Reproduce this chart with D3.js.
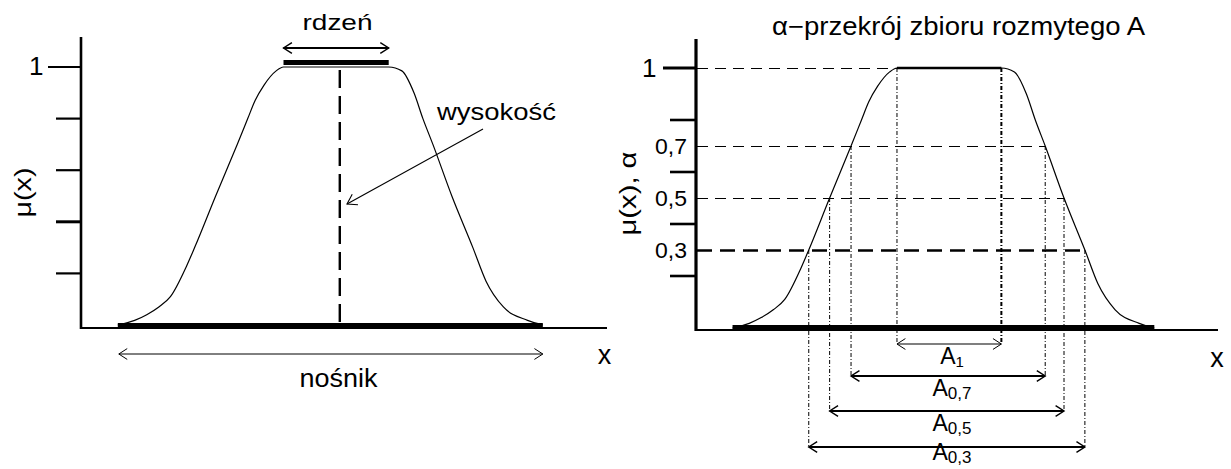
<!DOCTYPE html>
<html>
<head>
<meta charset="utf-8">
<script src="https://cdn.jsdelivr.net/npm/d3@7"></script>
<style>
  html, body { margin: 0; padding: 0; background: #fff; }
  svg { display: block; }
  text { font-family: "Liberation Sans", Arial, sans-serif; fill: #000; }
</style>
</head>
<body>
<svg id="chart" width="1231" height="469"></svg>
<script>
// ---------- data ----------
// membership function mu(x), x in abstract units 0..10
const curveX  = [0.70, 1.02, 1.25, 1.48, 1.70, 2.01, 2.16, 2.56, 2.97, 3.17, 3.31, 3.48, 3.71, 3.85,
                 5.85, 6.10, 6.33, 6.50, 6.69, 7.05, 7.45, 7.70, 8.03, 8.49, 8.78];
const curveMu = [0.00, 0.018, 0.04, 0.07, 0.11, 0.23, 0.30, 0.50, 0.70, 0.80, 0.87, 0.93, 0.985, 1.00,
                 1.00, 0.985, 0.90, 0.80, 0.70, 0.50, 0.30, 0.17, 0.07, 0.018, 0.00];
const supportRange = [0.70, 8.78];   // nośnik
const coreRange    = [3.85, 5.85];   // rdzeń
const heightX      = 4.92;           // wysokość marker
const leftTicks    = [0.2, 0.4, 0.6, 0.8, 1];
const leftTickLabels = ["", "", "", "", "1"];
const rightTicks   = [0.2, 0.4, 0.6, 0.8, 1];
const alphaLevels  = [1, 0.7, 0.5, 0.3];
const alphaLabels  = ["1", "0,7", "0,5", "0,3"];
const alphaCutLeft  = [3.85, 2.97, 2.56, 2.16];
const alphaCutRight = [5.85, 6.69, 7.05, 7.45];
const cutNames = ["A", "A", "A", "A"];
const cutSubs  = ["1", "0,7", "0,5", "0,3"];

// ---------- layout ----------
const svg = d3.select("#chart");
const xL = d3.scaleLinear().domain([0, 10]).range([81, 607]);
const yL = d3.scaleLinear().domain([0, 1]).range([325, 67]);
const xR = d3.scaleLinear().domain([0, 10]).range([696, 1218]);
const yR = d3.scaleLinear().domain([0, 1]).range([328, 68]);
const pts = curveX.map((x, i) => [x, curveMu[i]]);

function chevron(g, x, y, dx, dy, len, w) {
  const n = Math.hypot(dx, dy), ux = dx / n, uy = dy / n;
  const a = Math.PI / 5.5;
  const p1 = [x - len * (ux * Math.cos(a) - uy * Math.sin(a)), y - len * (uy * Math.cos(a) + ux * Math.sin(a))];
  const p2 = [x - len * (ux * Math.cos(a) + uy * Math.sin(a)), y - len * (uy * Math.cos(a) - ux * Math.sin(a))];
  g.append("path").attr("d", `M${p1[0]},${p1[1]}L${x},${y}L${p2[0]},${p2[1]}`)
    .attr("fill", "none").attr("stroke", "#000").attr("stroke-width", w);
}
function dblArrow(g, x1, x2, y, w, len) {
  g.append("line").attr("x1", x1).attr("x2", x2).attr("y1", y).attr("y2", y)
    .attr("stroke", "#000").attr("stroke-width", w);
  chevron(g, x1, y, -1, 0, len, Math.max(1, w * 0.7));
  chevron(g, x2, y, 1, 0, len, Math.max(1, w * 0.7));
}

// =============== LEFT PANEL ===============
const L = svg.append("g");
L.append("line").attr("x1", xL(supportRange[0])).attr("x2", xL(supportRange[1]))
  .attr("y1", yL(0) + 1).attr("y2", yL(0) + 1).attr("stroke", "#000").attr("stroke-width", 6);
L.append("line").attr("x1", 81).attr("x2", 607).attr("y1", 328).attr("y2", 328)
  .attr("stroke", "#000").attr("stroke-width", 2.2);
L.append("line").attr("x1", 81).attr("x2", 81).attr("y1", 37).attr("y2", 329)
  .attr("stroke", "#000").attr("stroke-width", 2.6);
L.selectAll(".tk").data(leftTicks).join("line")
  .attr("x1", (d, i) => leftTickLabels[i] ? 48 : 56).attr("x2", 81)
  .attr("y1", d => yL(d)).attr("y2", d => yL(d))
  .attr("stroke", "#000").attr("stroke-width", (d) => d === 0.4 ? 3 : 2.2);
L.selectAll(".tl").data(leftTicks.filter((d, i) => leftTickLabels[i])).join("text")
  .attr("x", 29).attr("y", d => yL(d) + 8).attr("font-size", 26)
  .text(d => leftTickLabels[leftTicks.indexOf(d)]);
L.append("path").datum(pts)
  .attr("d", d3.line().x(d => xL(d[0])).y(d => yL(d[1])).curve(d3.curveMonotoneX))
  .attr("fill", "none").attr("stroke", "#000").attr("stroke-width", 1.2);
L.append("line").attr("x1", xL(coreRange[0])).attr("x2", xL(coreRange[1]))
  .attr("y1", yL(1) - 4.5).attr("y2", yL(1) - 4.5).attr("stroke", "#000").attr("stroke-width", 5);
L.append("line").attr("x1", xL(heightX)).attr("x2", xL(heightX)).attr("y1", yL(1) + 3).attr("y2", 328)
  .attr("stroke", "#000").attr("stroke-width", 2.4).attr("stroke-dasharray", "18,8");
dblArrow(L, xL(coreRange[0]), xL(coreRange[1]), 48, 2, 10);
L.append("text").attr("x", 337.5).attr("y", 29.5).attr("text-anchor", "middle").attr("font-size", 22)
  .attr("textLength", 70).attr("lengthAdjust", "spacingAndGlyphs").text("rdzeń");
dblArrow(L, xL(supportRange[0]) + 1, xL(supportRange[1]), 354, 1, 10);
L.append("text").attr("x", 338.5).attr("y", 387).attr("text-anchor", "middle").attr("font-size", 25)
  .attr("textLength", 78).attr("lengthAdjust", "spacingAndGlyphs").text("nośnik");
L.append("line").attr("x1", 483).attr("y1", 129).attr("x2", 347).attr("y2", 204)
  .attr("stroke", "#000").attr("stroke-width", 1.1);
chevron(L, 347, 204, -136, 75, 11, 1.1);
L.append("text").attr("x", 437).attr("y", 119.5).attr("font-size", 24)
  .attr("textLength", 119).attr("lengthAdjust", "spacingAndGlyphs").text("wysokość");
L.append("text").attr("transform", "translate(31,192.5) rotate(-90)").attr("text-anchor", "middle")
  .attr("font-size", 24).attr("textLength", 50).attr("lengthAdjust", "spacingAndGlyphs").text("μ(x)");
L.append("text").attr("x", 604.5).attr("y", 364).attr("text-anchor", "middle").attr("font-size", 27).text("x");

// =============== RIGHT PANEL ===============
const R = svg.append("g");
R.append("line").attr("x1", xR(supportRange[0])).attr("x2", xR(supportRange[1]))
  .attr("y1", yR(0)).attr("y2", yR(0)).attr("stroke", "#000").attr("stroke-width", 6);
R.append("line").attr("x1", 696).attr("x2", 1218).attr("y1", 330).attr("y2", 330)
  .attr("stroke", "#000").attr("stroke-width", 2.2);
R.append("line").attr("x1", 696).attr("x2", 696).attr("y1", 39).attr("y2", 331)
  .attr("stroke", "#000").attr("stroke-width", 3.2);
R.selectAll(".tk").data(rightTicks).join("line")
  .attr("x1", d => d === 1 ? 663 : 670).attr("x2", 696)
  .attr("y1", d => yR(d)).attr("y2", d => yR(d))
  .attr("stroke", "#000").attr("stroke-width", d => d === 1 ? 3.2 : 2.6);
R.selectAll(".al").data(alphaLevels).join("text")
  .attr("x", (d, i) => i === 0 ? 642 : 655).attr("y", (d, i) => yR(d) + (i === 0 ? 8.5 : 7.5))
  .attr("font-size", (d, i) => i === 0 ? 26 : 22)
  .each(function (d, i) { if (i > 0) d3.select(this).attr("textLength", 32).attr("lengthAdjust", "spacingAndGlyphs"); })
  .text((d, i) => alphaLabels[i]);
R.selectAll(".ah").data(alphaLevels).join("line")
  .attr("x1", 697).attr("x2", (d, i) => xR(i === 0 ? alphaCutLeft[i] : alphaCutRight[i]))
  .attr("y1", d => Math.round(yR(d)) + 0.5).attr("y2", d => Math.round(yR(d)) + 0.5)
  .attr("stroke", "#000")
  .attr("stroke-width", d => d === 0.3 ? 2.4 : 1.2)
  .attr("stroke-dasharray", d => d === 0.3 ? "15,8" : "11,7");
R.append("path").datum(pts)
  .attr("d", d3.line().x(d => xR(d[0])).y(d => yR(d[1])).curve(d3.curveMonotoneX))
  .attr("fill", "none").attr("stroke", "#000").attr("stroke-width", 1.2);
R.append("line").attr("x1", xR(coreRange[0])).attr("x2", xR(coreRange[1]))
  .attr("y1", yR(1)).attr("y2", yR(1)).attr("stroke", "#000").attr("stroke-width", 2.4);
const arrowY = [344, 376, 411, 447];
const labelY = [363.5, 395.5, 430.5, 460];
alphaLevels.forEach((lv, i) => {
  [alphaCutLeft[i], alphaCutRight[i]].forEach((cx, j) => {
    R.append("line").attr("x1", xR(cx)).attr("x2", xR(cx)).attr("y1", yR(lv)).attr("y2", arrowY[i])
      .attr("stroke", "#000").attr("stroke-width", (i === 0 && j === 1) ? 2 : 1)
      .attr("stroke-dasharray", "4,2,1,2");
  });
  dblArrow(R, xR(alphaCutLeft[i]), xR(alphaCutRight[i]), arrowY[i], i === 0 ? 1.1 : 2, 10);
  const t = R.append("text").attr("x", 952).attr("y", labelY[i]).attr("text-anchor", "middle");
  t.append("tspan").attr("font-size", 23).text(cutNames[i]);
  t.append("tspan").attr("font-size", i === 0 ? 15 : 17).attr("dy", 3).text(cutSubs[i]);
});
R.append("text").attr("x", 958.5).attr("y", 35).attr("text-anchor", "middle").attr("font-size", 25)
  .attr("textLength", 373).attr("lengthAdjust", "spacingAndGlyphs").text("α−przekrój zbioru rozmytego A");
R.append("text").attr("transform", "translate(636,193.5) rotate(-90)").attr("text-anchor", "middle")
  .attr("font-size", 24).attr("textLength", 84).attr("lengthAdjust", "spacingAndGlyphs").text("μ(x), α");
R.append("text").attr("x", 1217).attr("y", 367).attr("text-anchor", "middle").attr("font-size", 27).text("x");
</script>
</body>
</html>
